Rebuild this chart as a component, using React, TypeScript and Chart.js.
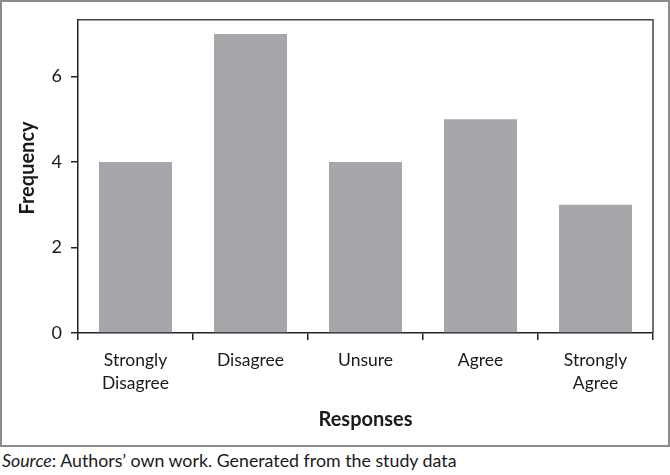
import React, { useEffect, useRef } from "react";
import { Chart, registerables } from "chart.js";

Chart.register(...registerables);

const categories: (string | string[])[] = [["Strongly", "Disagree"], "Disagree", "Unsure", "Agree", ["Strongly", "Agree"]];
const frequencies: number[] = [4, 7, 4, 5, 3];
const yTicks: number[] = [0, 2, 4, 6];
const xTitle = "Responses";
const yTitle = "Frequency";

const FONT = "Lato, 'Open Sans', sans-serif";

const framePlugin = {
  id: "framePlugin",
  beforeDraw(chart: any) {
    const { ctx, width, height } = chart;
    ctx.save();
    ctx.fillStyle = "#fff";
    ctx.fillRect(0, 0, width, height);
    ctx.strokeStyle = "#8c8c8c";
    ctx.lineWidth = 2;
    ctx.strokeRect(1, 1, width - 2, height - 2);
    ctx.restore();
  },
  afterDraw(chart: any) {
    const { ctx, chartArea } = chart;
    const { left, right, top, bottom } = chartArea;
    ctx.save();
    ctx.strokeStyle = "#444";
    ctx.lineWidth = 1.5;
    ctx.beginPath();
    ctx.moveTo(left, top);
    ctx.lineTo(right, top);
    ctx.lineTo(right, bottom);
    ctx.stroke();
    ctx.fillStyle = "#1a1a1a";
    ctx.font = `bold 20px ${FONT}`;
    ctx.textAlign = "center";
    ctx.textBaseline = "middle";
    ctx.fillText(xTitle, (left + right) / 2, 420);
    ctx.translate(28, 168);
    ctx.rotate(-Math.PI / 2);
    ctx.fillText(yTitle, 0, 0);
    ctx.restore();
  },
};

export default function App() {
  const ref = useRef<HTMLCanvasElement>(null);
  useEffect(() => {
    const chart = new Chart(ref.current as HTMLCanvasElement, {
      type: "bar",
      data: {
        labels: categories,
        datasets: [
          {
            data: frequencies,
            backgroundColor: "#a6a7ab",
            borderWidth: 0,
            categoryPercentage: 1,
            barPercentage: 0.635,
          },
        ],
      },
      options: {
        responsive: false,
        animation: false,
        layout: { padding: { left: 0, top: 16, right: 17, bottom: 0 } },
        plugins: { legend: { display: false }, tooltip: { enabled: false } },
        scales: {
          x: {
            grid: { drawOnChartArea: false, drawTicks: true, tickLength: 7, color: "#222", lineWidth: 1.5, offset: true },
            border: { display: true, color: "#222", width: 1.5 },
            ticks: { color: "#1a1a1a", font: { family: FONT, size: 17.5, lineHeight: 1.3 }, padding: 9, maxRotation: 0, autoSkip: false },
            afterFit: (s: any) => { s.height = 114; },
          },
          y: {
            min: 0,
            max: 7.33,
            grid: { drawOnChartArea: false, drawTicks: true, tickLength: 7, color: "#222", lineWidth: 1.5 },
            border: { display: true, color: "#222", width: 1.5 },
            ticks: { stepSize: 2, color: "#1a1a1a", font: { family: FONT, size: 18 }, padding: 9 },
            afterBuildTicks: (s: any) => { s.ticks = yTicks.map((v) => ({ value: v })); },
            afterFit: (s: any) => { s.width = 78; },
          },
        },
      },
      plugins: [framePlugin],
    });
    return () => chart.destroy();
  }, []);
  return (
    <div style={{ position: "absolute", left: 0, top: 0, width: 670, height: 475, background: "#fff" }}>
      <canvas ref={ref} width={670} height={447} style={{ display: "block" }} />
      <div style={{ position: "absolute", left: 2, top: 449, fontFamily: FONT, fontSize: 17.8, color: "#1a1a1a", whiteSpace: "nowrap" }}>
        <i>Source</i>: Authors’ own work. Generated from the study data
      </div>
    </div>
  );
}
